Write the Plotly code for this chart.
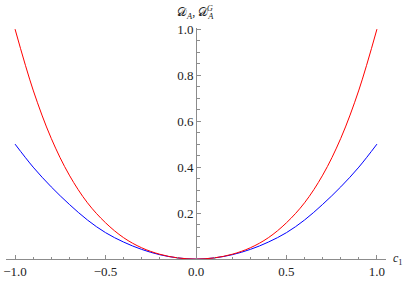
import plotly.graph_objects as go

# values
c_vals = [-1.0, -0.9, -0.8, -0.7, -0.6, -0.5, -0.4, -0.3, -0.2, -0.1, 0.0,
          0.1, 0.2, 0.3, 0.4, 0.5, 0.6, 0.7, 0.8, 0.9, 1.0]
red_vals = [1.0, 0.735, 0.525, 0.365, 0.245, 0.158, 0.093, 0.049, 0.021, 0.005, 0.0,
            0.005, 0.021, 0.049, 0.093, 0.158, 0.245, 0.365, 0.525, 0.735, 1.0]
blue_vals = [0.5, 0.4, 0.314, 0.238, 0.17, 0.115, 0.074, 0.042, 0.019, 0.005, 0.0,
             0.005, 0.019, 0.042, 0.074, 0.115, 0.17, 0.238, 0.314, 0.4, 0.5]

x_ticks = [-1.0, -0.5, 0.0, 0.5, 1.0]
x_ticktext = ["\u22121.0", "\u22120.5", "0.0", "0.5", "1.0"]
y_ticks = [0.2, 0.4, 0.6, 0.8, 1.0]
y_ticktext = ["0.2", "0.4", "0.6", "0.8", "1.0"]

FONT = "Liberation Serif, Times New Roman, serif"
AXIS = "#8c8c8c"
TXT = "#222222"

fig = go.Figure()
fig.add_trace(go.Scatter(x=c_vals, y=blue_vals, mode="lines",
                         line=dict(color="#0000ff", width=1, shape="spline")))
fig.add_trace(go.Scatter(x=c_vals, y=red_vals, mode="lines",
                         line=dict(color="#ff0000", width=1, shape="spline")))

xr = [-1.05, 1.05]
yr = [-0.004, 1.005]

fig.update_layout(
    width=407, height=282,
    margin=dict(l=3, r=21, t=28, b=18),
    paper_bgcolor="white", plot_bgcolor="white",
    showlegend=False,
    font=dict(family=FONT, size=13, color=TXT),
    xaxis=dict(range=xr, showgrid=False, zeroline=False,
               showline=True, linecolor=AXIS, linewidth=1,
               anchor="free", position=(0 - yr[0]) / (yr[1] - yr[0]),
               tickmode="array", tickvals=x_ticks, ticktext=x_ticktext,
               ticks="inside", ticklen=4, tickcolor=AXIS, tickwidth=1,
               minor=dict(dtick=0.1, tick0=0, ticks="inside", ticklen=2.5,
                          tickcolor=AXIS, showgrid=False),
               tickfont=dict(family=FONT, size=13, color=TXT)),
    yaxis=dict(range=yr, showgrid=False, zeroline=False,
               showline=True, linecolor=AXIS, linewidth=1,
               anchor="free", position=(0 - xr[0]) / (xr[1] - xr[0]),
               tickmode="array", tickvals=y_ticks, ticktext=y_ticktext,
               ticks="inside", ticklen=4, tickcolor=AXIS, tickwidth=1,
               minor=dict(dtick=0.05, tick0=0, ticks="inside", ticklen=2.5,
                          tickcolor=AXIS, showgrid=False),
               tickfont=dict(family=FONT, size=13, color=TXT)),
    annotations=[
        dict(text="\U0001D49F<sub><i>A</i></sub>, \U0001D49F<sub><i>A</i></sub>",
             xref="paper", yref="paper", x=(173 - 3) / 383, y=(264 - 13) / 236,
             xanchor="left", yanchor="middle", showarrow=False,
             font=dict(family=FONT, size=12, color=TXT)),
        dict(text="<i>G</i>",
             xref="paper", yref="paper", x=(209 - 3) / 383, y=(264 - 8) / 236,
             xanchor="center", yanchor="middle", showarrow=False,
             font=dict(family=FONT, size=8, color=TXT)),
        dict(text="<i>c</i><sub>1</sub>", xref="paper", yref="y",
             x=1, y=0, xanchor="left", yanchor="middle", xshift=5,
             showarrow=False, font=dict(family=FONT, size=12, color=TXT)),
    ],
)

fig.write_html("out.html", config={"displayModeBar": False},
               post_script="document.body.style.margin='0';document.body.style.overflow='hidden';")
